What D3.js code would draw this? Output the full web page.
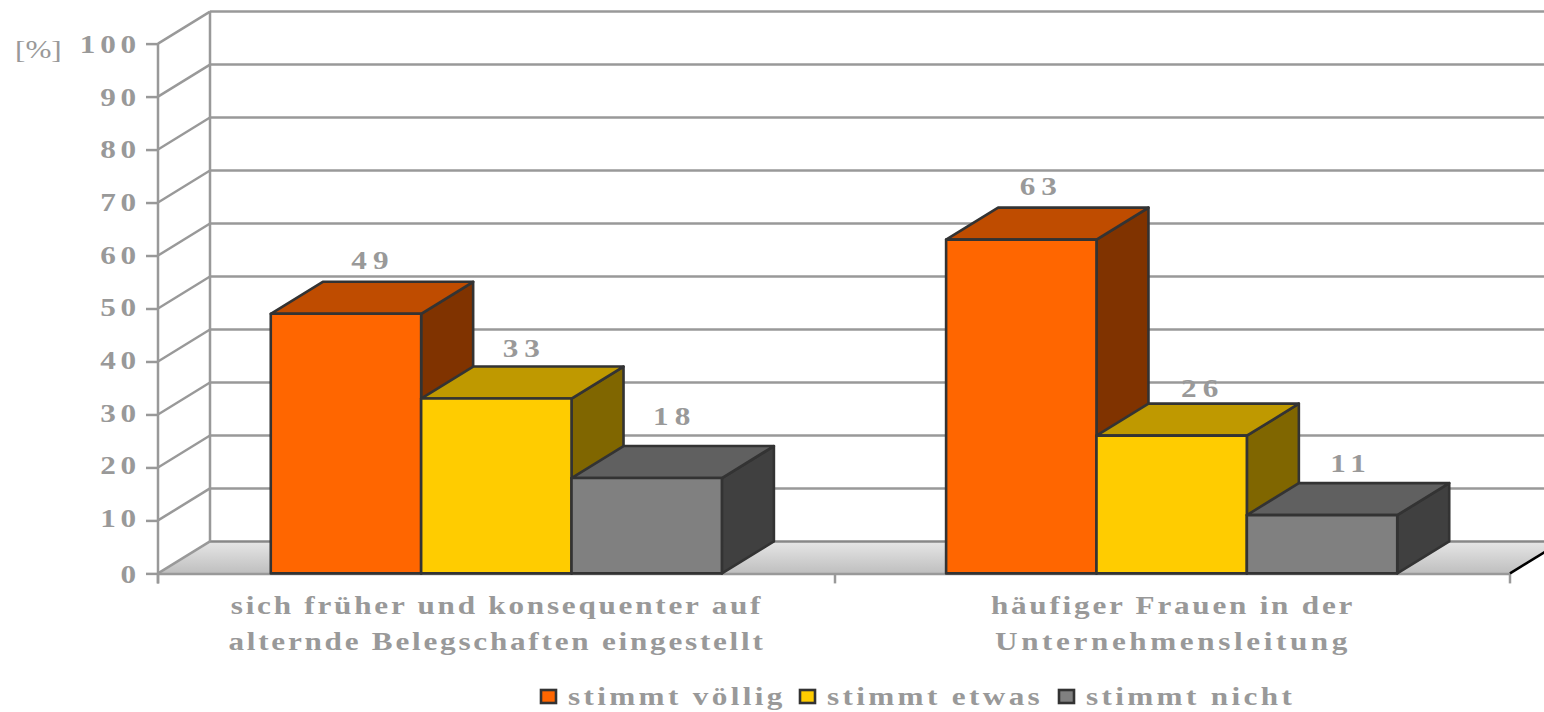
<!DOCTYPE html>
<html><head><meta charset="utf-8">
<style>
html,body{margin:0;padding:0;background:#fff;overflow:hidden}
text{font-family:"Liberation Serif",serif;font-weight:bold;fill:#999}
</style>
<script src="https://cdn.jsdelivr.net/npm/d3@7"></script>
</head><body><svg id="c" width="1544" height="712"></svg>
<script>
const categories=[["sich früher und konsequenter auf","alternde Belegschaften eingestellt"],["häufiger Frauen in der","Unternehmensleitung"]];
const seriesNames=["stimmt völlig","stimmt etwas","stimmt nicht"];
const group1Values=[49,33,18];
const group2Values=[63,26,11];
const faceColors=["#ff6600","#ffcc00","#808080"];
const topColors=["#bf4c00","#bf9900","#606060"];
const sideColors=["#803300","#806600","#404040"];
const yTicks=[0,10,20,30,40,50,60,70,80,90,100];

const width=1544,height=712,dx=52,dy=-32,sx=1.2;
const labelNudge=[[[1,-8],[2,-5],[2,-16]],[[-6,-8],[5,-2],[3,-6]]];
const lineSpacing=[[2.3,2.3],[2.3,3]];
const svg=d3.select("#c");
const y=d3.scaleLinear().domain([0,100]).range([573.4,43.6]);
const x=d3.scaleBand().domain([0,1]).range([158,1510]).paddingInner(0.332).paddingOuter(0.167);
const xs=d3.scaleBand().domain([0,1,2]).range([0,x.bandwidth()]);
const grey="#999",dark="#333";
const place=(sel,px,py,size,ls,anchor)=>sel
  .attr("transform",`translate(${px},${py}) scale(${sx},1)`)
  .attr("text-anchor",anchor||"start")
  .style("font-size",size+"px").style("letter-spacing",ls+"px");

const defs=svg.append("defs");
const g=defs.append("linearGradient").attr("id","floor").attr("x1",0).attr("x2",0).attr("y1",0).attr("y2",1);
g.append("stop").attr("offset",0).attr("stop-color","#e6e6e6");
g.append("stop").attr("offset",1).attr("stop-color","#bfbfbf");

const x0=158,x1=1510;
svg.append("path").attr("d",d3.line()([[x0,y(0)],[x0+dx,y(0)+dy],[width+20,y(0)+dy],[x1,y(0)]])+"Z").attr("fill","url(#floor)");
svg.append("g").selectAll("line").data(yTicks).join("line")
 .attr("x1",x0+dx).attr("x2",width).attr("y1",d=>y(d)+dy).attr("y2",d=>y(d)+dy)
 .attr("stroke",d=>d===0?"#888":grey).attr("stroke-width",2.5);
svg.append("g").selectAll("line").data(yTicks).join("line")
 .attr("x1",x0).attr("x2",x0+dx).attr("y1",d=>y(d)).attr("y2",d=>y(d)+dy)
 .attr("stroke",grey).attr("stroke-width",2.5);
svg.append("line").attr("x1",x0+dx).attr("x2",x0+dx).attr("y1",y(100)+dy).attr("y2",y(0)+dy).attr("stroke",grey).attr("stroke-width",2.5);
const axisL=d3.axisLeft(y).tickValues(yTicks).tickSize(12).tickPadding(9);
const ga=svg.append("g").attr("transform",`translate(${x0},0)`).call(axisL);
ga.select(".domain").remove();
ga.selectAll(".tick line").attr("stroke",grey).attr("stroke-width",2.5);
ga.selectAll(".tick text").attr("font-family",null).attr("x",null).attr("dy",null)
  .each(function(d){place(d3.select(this),-17,d===0?9:9-(100-d)*0.033,26,4,"end");});
svg.append("line").attr("x1",x0).attr("x2",x0).attr("y1",y(100)).attr("y2",y(0)+10).attr("stroke",grey).attr("stroke-width",2.5);
svg.append("line").attr("x1",x0).attr("x2",x1).attr("y1",y(0)+.6).attr("y2",y(0)+.6).attr("stroke",grey).attr("stroke-width",2.5);
[x0,(x0+x1)/2+1,x1].forEach(t=>svg.append("line").attr("x1",t).attr("x2",t).attr("y1",y(0)).attr("y2",y(0)+10).attr("stroke",grey).attr("stroke-width",2.5));
svg.append("line").attr("x1",x1).attr("x2",width+5).attr("y1",y(0)).attr("y2",y(0)-(width+5-x1)*32/52).attr("stroke","#000").attr("stroke-width",2.6);

place(svg.append("text").text("[%]"),15,58,26,0).style("font-weight","normal");

[group1Values,group2Values].forEach((vals,ci)=>{
  const gg=svg.append("g").attr("transform",`translate(${x(ci)},0)`);
  vals.forEach((v,si)=>{
    const l=xs(si),r=l+xs.bandwidth(),t=y(v),b=y(0);
    const bar=gg.append("g").attr("stroke",dark).attr("stroke-width",2.6).attr("stroke-linejoin","round");
    bar.append("path").attr("fill",sideColors[si]).attr("d",d3.line()([[r,t],[r+dx,t+dy],[r+dx,b+dy],[r,b]])+"Z");
    bar.append("path").attr("fill",topColors[si]).attr("d",d3.line()([[l,t],[l+dx,t+dy],[r+dx,t+dy],[r,t]])+"Z");
    bar.append("rect").attr("fill",faceColors[si]).attr("x",l).attr("y",t).attr("width",r-l).attr("height",b-t);
    const n=labelNudge[ci][si];
    place(gg.append("text").text(v),(l+r)/2+dx/2+n[0],t+dy-13+n[1]+8,26,5,"middle");
  });
});

categories.forEach((lines,ci)=>{
  lines.forEach((s,li)=>{
    place(svg.append("text").text(s),ci===0?497:1173,614+li*36,26,lineSpacing[ci][li],"middle");
  });
});

const legX=[540,799,1058];
seriesNames.forEach((s,i)=>{
  svg.append("rect").attr("x",legX[i]+1).attr("y",690).attr("width",15).attr("height",13).attr("fill",faceColors[i]).attr("stroke",dark).attr("stroke-width",2.6);
  place(svg.append("text").text(s),legX[i]+28,705,26,2.8);
});
</script></body></html>
